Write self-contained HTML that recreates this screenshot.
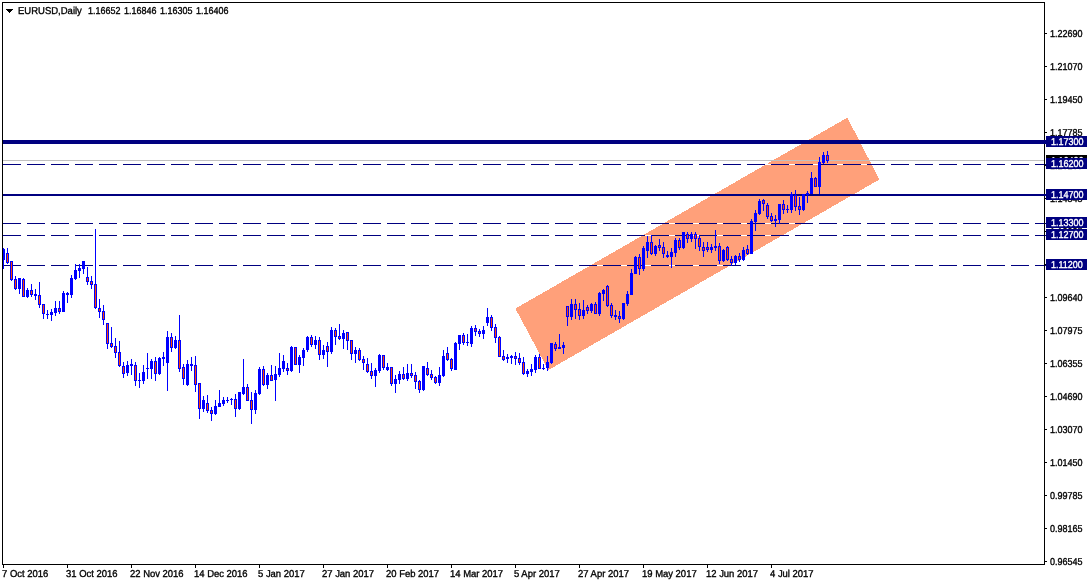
<!DOCTYPE html>
<html><head><meta charset="utf-8"><title>EURUSD,Daily</title>
<style>
html,body{margin:0;padding:0;background:#fff;}
body{width:1087px;height:585px;overflow:hidden;position:relative;font-family:"Liberation Sans",Arial,sans-serif;}
#chart{position:absolute;left:0;top:0;width:1087px;height:585px;}
svg{position:absolute;left:0;top:0;display:block;}
.t{position:absolute;white-space:pre;font-size:10px;text-rendering:geometricPrecision;line-height:11px;height:11px;color:#000;transform-origin:0 0;transform:scaleX(0.9);-webkit-text-stroke:0.35px #000;}
.hd{transform:scaleX(0.95);}.hn{transform:scaleX(0.897);}
.dt{transform:scaleX(0.945);}
.pl{position:absolute;left:1046px;width:41px;height:11px;background:#000080;color:#fff;}
.pl span{position:absolute;left:4.5px;top:1px;font-size:10px;text-rendering:geometricPrecision;line-height:11px;white-space:pre;transform-origin:0 0;transform:scaleX(0.9);-webkit-text-stroke:0.35px #fff;}
.bid{background:#000;}
</style></head><body><div id="chart">
<svg width="1087" height="585" viewBox="0 0 1087 585" shape-rendering="crispEdges">
<rect x="0" y="0" width="1087" height="585" fill="#fff"/>
<polygon points="515.4,308.6 847.3,117.6 879.4,179.5 548.3,370.1" fill="#ffa07a"/>
<rect x="3" y="140" width="1043" height="4" fill="#000080"/>
<rect x="3" y="160" width="1041" height="1" fill="#c0c0c0"/>
<rect x="3" y="194" width="1043" height="2" fill="#000080"/>
<rect x="3" y="164" width="1041" height="1" fill="#fff"/>
<path d="M3 164h18v1h-18zM27 164h18v1h-18zM51 164h18v1h-18zM75 164h18v1h-18zM99 164h18v1h-18zM123 164h18v1h-18zM147 164h18v1h-18zM171 164h18v1h-18zM195 164h18v1h-18zM219 164h18v1h-18zM243 164h18v1h-18zM267 164h18v1h-18zM291 164h18v1h-18zM315 164h18v1h-18zM339 164h18v1h-18zM363 164h18v1h-18zM387 164h18v1h-18zM411 164h18v1h-18zM435 164h18v1h-18zM459 164h18v1h-18zM483 164h18v1h-18zM507 164h18v1h-18zM531 164h18v1h-18zM555 164h18v1h-18zM579 164h18v1h-18zM603 164h18v1h-18zM627 164h18v1h-18zM651 164h18v1h-18zM675 164h18v1h-18zM699 164h18v1h-18zM723 164h18v1h-18zM747 164h18v1h-18zM771 164h18v1h-18zM795 164h18v1h-18zM819 164h18v1h-18zM843 164h18v1h-18zM867 164h18v1h-18zM891 164h18v1h-18zM915 164h18v1h-18zM939 164h18v1h-18zM963 164h18v1h-18zM987 164h18v1h-18zM1011 164h18v1h-18zM1035 164h11v1h-11z" fill="#000080"/>
<rect x="3" y="223" width="1041" height="1" fill="#fff"/>
<path d="M3 223h18v1h-18zM27 223h18v1h-18zM51 223h18v1h-18zM75 223h18v1h-18zM99 223h18v1h-18zM123 223h18v1h-18zM147 223h18v1h-18zM171 223h18v1h-18zM195 223h18v1h-18zM219 223h18v1h-18zM243 223h18v1h-18zM267 223h18v1h-18zM291 223h18v1h-18zM315 223h18v1h-18zM339 223h18v1h-18zM363 223h18v1h-18zM387 223h18v1h-18zM411 223h18v1h-18zM435 223h18v1h-18zM459 223h18v1h-18zM483 223h18v1h-18zM507 223h18v1h-18zM531 223h18v1h-18zM555 223h18v1h-18zM579 223h18v1h-18zM603 223h18v1h-18zM627 223h18v1h-18zM651 223h18v1h-18zM675 223h18v1h-18zM699 223h18v1h-18zM723 223h18v1h-18zM747 223h18v1h-18zM771 223h18v1h-18zM795 223h18v1h-18zM819 223h18v1h-18zM843 223h18v1h-18zM867 223h18v1h-18zM891 223h18v1h-18zM915 223h18v1h-18zM939 223h18v1h-18zM963 223h18v1h-18zM987 223h18v1h-18zM1011 223h18v1h-18zM1035 223h11v1h-11z" fill="#000080"/>
<rect x="3" y="235" width="1041" height="1" fill="#fff"/>
<path d="M3 235h18v1h-18zM27 235h18v1h-18zM51 235h18v1h-18zM75 235h18v1h-18zM99 235h18v1h-18zM123 235h18v1h-18zM147 235h18v1h-18zM171 235h18v1h-18zM195 235h18v1h-18zM219 235h18v1h-18zM243 235h18v1h-18zM267 235h18v1h-18zM291 235h18v1h-18zM315 235h18v1h-18zM339 235h18v1h-18zM363 235h18v1h-18zM387 235h18v1h-18zM411 235h18v1h-18zM435 235h18v1h-18zM459 235h18v1h-18zM483 235h18v1h-18zM507 235h18v1h-18zM531 235h18v1h-18zM555 235h18v1h-18zM579 235h18v1h-18zM603 235h18v1h-18zM627 235h18v1h-18zM651 235h18v1h-18zM675 235h18v1h-18zM699 235h18v1h-18zM723 235h18v1h-18zM747 235h18v1h-18zM771 235h18v1h-18zM795 235h18v1h-18zM819 235h18v1h-18zM843 235h18v1h-18zM867 235h18v1h-18zM891 235h18v1h-18zM915 235h18v1h-18zM939 235h18v1h-18zM963 235h18v1h-18zM987 235h18v1h-18zM1011 235h18v1h-18zM1035 235h11v1h-11z" fill="#000080"/>
<rect x="3" y="265" width="1041" height="1" fill="#fff"/>
<path d="M3 265h18v1h-18zM27 265h18v1h-18zM51 265h18v1h-18zM75 265h18v1h-18zM99 265h18v1h-18zM123 265h18v1h-18zM147 265h18v1h-18zM171 265h18v1h-18zM195 265h18v1h-18zM219 265h18v1h-18zM243 265h18v1h-18zM267 265h18v1h-18zM291 265h18v1h-18zM315 265h18v1h-18zM339 265h18v1h-18zM363 265h18v1h-18zM387 265h18v1h-18zM411 265h18v1h-18zM435 265h18v1h-18zM459 265h18v1h-18zM483 265h18v1h-18zM507 265h18v1h-18zM531 265h18v1h-18zM555 265h18v1h-18zM579 265h18v1h-18zM603 265h18v1h-18zM627 265h18v1h-18zM651 265h18v1h-18zM675 265h18v1h-18zM699 265h18v1h-18zM723 265h18v1h-18zM747 265h18v1h-18zM771 265h18v1h-18zM795 265h18v1h-18zM819 265h18v1h-18zM843 265h18v1h-18zM867 265h18v1h-18zM891 265h18v1h-18zM915 265h18v1h-18zM939 265h18v1h-18zM963 265h18v1h-18zM987 265h18v1h-18zM1011 265h18v1h-18zM1035 265h11v1h-11z" fill="#000080"/>
<path d="M3 248h1v21h-1zM7 248h1v16h-1zM11 261h1v20h-1zM15 276h1v14h-1zM19 278h1v16h-1zM23 278h1v19h-1zM27 288h1v10h-1zM31 284h1v13h-1zM35 289h1v11h-1zM39 282h1v26h-1zM43 304h1v15h-1zM47 310h1v9h-1zM51 309h1v12h-1zM55 301h1v15h-1zM59 301h1v13h-1zM63 291h1v21h-1zM67 292h1v11h-1zM71 275h1v23h-1zM75 264h1v16h-1zM79 264h1v14h-1zM83 261h1v13h-1zM87 267h1v18h-1zM91 276h1v13h-1zM95 229h1v80h-1zM99 299h1v19h-1zM103 305h1v20h-1zM107 323h1v26h-1zM111 327h1v21h-1zM115 338h1v20h-1zM119 341h1v26h-1zM123 362h1v16h-1zM127 361h1v15h-1zM131 359h1v16h-1zM135 362h1v24h-1zM139 373h1v15h-1zM143 365h1v19h-1zM147 353h1v26h-1zM151 359h1v20h-1zM155 357h1v24h-1zM159 357h1v18h-1zM163 352h1v14h-1zM167 331h1v60h-1zM171 333h1v19h-1zM175 336h1v13h-1zM179 315h1v57h-1zM183 364h1v21h-1zM187 360h1v26h-1zM191 357h1v14h-1zM195 356h1v36h-1zM199 383h1v36h-1zM203 396h1v16h-1zM207 395h1v18h-1zM211 407h1v14h-1zM215 400h1v15h-1zM219 390h1v17h-1zM223 397h1v9h-1zM227 397h1v6h-1zM231 398h1v7h-1zM235 394h1v23h-1zM239 392h1v18h-1zM243 359h1v36h-1zM247 384h1v17h-1zM251 392h1v32h-1zM255 390h1v24h-1zM259 367h1v28h-1zM263 366h1v20h-1zM267 373h1v16h-1zM271 365h1v16h-1zM275 366h1v35h-1zM279 353h1v24h-1zM283 355h1v17h-1zM287 363h1v12h-1zM291 346h1v26h-1zM295 347h1v18h-1zM299 355h1v18h-1zM303 348h1v18h-1zM307 336h1v16h-1zM311 335h1v12h-1zM315 336h1v13h-1zM319 337h1v23h-1zM323 345h1v14h-1zM327 342h1v25h-1zM331 327h1v27h-1zM335 328h1v17h-1zM339 324h1v16h-1zM343 330h1v19h-1zM347 332h1v18h-1zM351 340h1v20h-1zM355 347h1v16h-1zM359 348h1v13h-1zM363 356h1v14h-1zM367 358h1v15h-1zM371 363h1v16h-1zM375 368h1v19h-1zM379 354h1v19h-1zM383 355h1v15h-1zM387 363h1v8h-1zM391 367h1v19h-1zM395 375h1v18h-1zM399 371h1v13h-1zM403 367h1v13h-1zM407 364h1v17h-1zM411 364h1v14h-1zM415 372h1v17h-1zM419 380h1v13h-1zM423 366h1v25h-1zM427 362h1v14h-1zM431 370h1v10h-1zM435 376h1v8h-1zM439 367h1v19h-1zM443 350h1v27h-1zM447 347h1v14h-1zM451 358h1v13h-1zM455 342h1v28h-1zM459 335h1v15h-1zM463 333h1v12h-1zM467 334h1v12h-1zM471 326h1v21h-1zM475 325h1v11h-1zM479 329h1v8h-1zM483 326h1v13h-1zM487 308h1v18h-1zM491 315h1v16h-1zM495 324h1v19h-1zM499 336h1v21h-1zM503 350h1v11h-1zM507 354h1v9h-1zM511 355h1v9h-1zM515 352h1v13h-1zM519 353h1v12h-1zM523 357h1v18h-1zM527 369h1v8h-1zM531 364h1v12h-1zM535 355h1v18h-1zM539 354h1v15h-1zM543 364h1v6h-1zM547 356h1v15h-1zM551 343h1v21h-1zM555 342h1v9h-1zM559 334h1v15h-1zM563 342h1v12h-1zM567 306h1v20h-1zM571 299h1v21h-1zM575 299h1v20h-1zM579 303h1v17h-1zM583 300h1v19h-1zM587 305h1v9h-1zM591 303h1v10h-1zM595 302h1v12h-1zM599 292h1v24h-1zM603 289h1v12h-1zM607 285h1v22h-1zM611 303h1v15h-1zM615 310h1v10h-1zM619 311h1v12h-1zM623 303h1v17h-1zM627 291h1v15h-1zM631 269h1v26h-1zM635 256h1v18h-1zM639 254h1v21h-1zM643 246h1v25h-1zM647 236h1v22h-1zM651 235h1v20h-1zM655 245h1v11h-1zM659 239h1v12h-1zM663 242h1v16h-1zM667 251h1v7h-1zM671 248h1v20h-1zM675 238h1v19h-1zM679 238h1v12h-1zM683 232h1v17h-1zM687 232h1v11h-1zM691 232h1v10h-1zM695 232h1v17h-1zM699 235h1v16h-1zM703 242h1v15h-1zM707 242h1v10h-1zM711 244h1v9h-1zM715 230h1v21h-1zM719 243h1v21h-1zM723 249h1v13h-1zM727 246h1v15h-1zM731 256h1v10h-1zM735 255h1v10h-1zM739 253h1v9h-1zM743 247h1v14h-1zM747 245h1v10h-1zM751 219h1v35h-1zM755 210h1v21h-1zM759 199h1v16h-1zM763 199h1v12h-1zM767 203h1v16h-1zM771 213h1v9h-1zM775 215h1v12h-1zM779 204h1v20h-1zM783 200h1v14h-1zM787 205h1v8h-1zM791 192h1v21h-1zM795 190h1v21h-1zM799 197h1v18h-1zM803 194h1v17h-1zM807 191h1v12h-1zM811 172h1v22h-1zM815 177h1v10h-1zM819 157h1v37h-1zM823 152h1v12h-1zM827 151h1v12h-1z" fill="#0000ff"/>
<path d="M2 249h3v11h-3zM6 253h3v10h-3zM10 261h3v19h-3zM14 279h3v10h-3zM18 278h3v11h-3zM22 279h3v18h-3zM26 290h3v7h-3zM30 290h3v5h-3zM34 294h3v2h-3zM38 295h3v10h-3zM42 304h3v10h-3zM46 314h3v1h-3zM50 312h3v3h-3zM54 308h3v5h-3zM58 308h3v4h-3zM62 293h3v19h-3zM66 293h3v2h-3zM70 278h3v17h-3zM74 270h3v9h-3zM78 268h3v3h-3zM82 261h3v8h-3zM86 277h3v5h-3zM90 281h3v4h-3zM94 284h3v24h-3zM98 308h3v4h-3zM102 311h3v9h-3zM106 323h3v21h-3zM110 343h3v4h-3zM114 346h3v7h-3zM118 352h3v14h-3zM122 366h3v8h-3zM126 365h3v8h-3zM130 364h3v2h-3zM134 365h3v16h-3zM138 380h3v1h-3zM142 372h3v9h-3zM146 368h3v1h-3zM150 361h3v8h-3zM154 361h3v13h-3zM158 358h3v16h-3zM162 357h3v2h-3zM166 337h3v26h-3zM170 337h3v11h-3zM174 340h3v8h-3zM178 340h3v29h-3zM182 367h3v12h-3zM186 364h3v21h-3zM190 364h3v2h-3zM194 365h3v20h-3zM198 383h3v26h-3zM202 400h3v9h-3zM206 403h3v8h-3zM210 410h3v4h-3zM214 406h3v8h-3zM218 403h3v4h-3zM222 400h3v4h-3zM226 400h3v1h-3zM230 399h3v1h-3zM234 399h3v10h-3zM238 392h3v17h-3zM242 387h3v7h-3zM246 387h3v14h-3zM250 400h3v10h-3zM254 393h3v17h-3zM258 369h3v25h-3zM262 369h3v16h-3zM266 375h3v10h-3zM270 375h3v6h-3zM274 374h3v6h-3zM278 368h3v7h-3zM282 361h3v8h-3zM286 368h3v3h-3zM290 347h3v24h-3zM294 347h3v18h-3zM298 357h3v8h-3zM302 350h3v8h-3zM306 337h3v13h-3zM310 337h3v8h-3zM314 340h3v5h-3zM318 340h3v15h-3zM322 350h3v5h-3zM326 346h3v6h-3zM330 330h3v22h-3zM334 330h3v7h-3zM338 336h3v3h-3zM342 333h3v6h-3zM346 332h3v9h-3zM350 340h3v14h-3zM354 350h3v4h-3zM358 350h3v10h-3zM362 359h3v4h-3zM366 364h3v8h-3zM370 371h3v5h-3zM374 370h3v6h-3zM378 355h3v16h-3zM382 355h3v13h-3zM386 367h3v3h-3zM390 367h3v17h-3zM394 379h3v5h-3zM398 374h3v6h-3zM402 374h3v5h-3zM406 373h3v6h-3zM410 373h3v3h-3zM414 375h3v7h-3zM418 381h3v9h-3zM422 366h3v24h-3zM426 368h3v7h-3zM430 374h3v4h-3zM434 377h3v6h-3zM438 375h3v8h-3zM442 356h3v20h-3zM446 353h3v7h-3zM450 359h3v10h-3zM454 343h3v27h-3zM458 335h3v9h-3zM462 335h3v8h-3zM466 342h3v1h-3zM470 328h3v16h-3zM474 328h3v4h-3zM478 331h3v3h-3zM482 330h3v4h-3zM486 317h3v6h-3zM490 317h3v11h-3zM494 327h3v11h-3zM498 337h3v20h-3zM502 356h3v4h-3zM506 357h3v2h-3zM510 356h3v2h-3zM514 356h3v3h-3zM518 358h3v5h-3zM522 362h3v12h-3zM526 371h3v3h-3zM530 369h3v3h-3zM534 357h3v13h-3zM538 357h3v12h-3zM542 368h3v1h-3zM546 362h3v6h-3zM550 343h3v20h-3zM554 344h3v5h-3zM558 347h3v2h-3zM562 345h3v3h-3zM566 306h3v11h-3zM570 304h3v13h-3zM574 304h3v6h-3zM578 309h3v7h-3zM582 310h3v6h-3zM586 307h3v4h-3zM590 304h3v7h-3zM594 304h3v10h-3zM598 293h3v21h-3zM602 290h3v4h-3zM606 286h3v20h-3zM610 305h3v11h-3zM614 315h3v2h-3zM618 316h3v3h-3zM622 303h3v16h-3zM626 294h3v10h-3zM630 273h3v22h-3zM634 257h3v17h-3zM638 257h3v12h-3zM642 248h3v21h-3zM646 242h3v9h-3zM650 242h3v12h-3zM654 246h3v8h-3zM658 245h3v3h-3zM662 247h3v7h-3zM666 255h3v2h-3zM670 252h3v5h-3zM674 240h3v13h-3zM678 240h3v8h-3zM682 232h3v16h-3zM686 234h3v5h-3zM690 234h3v5h-3zM694 234h3v5h-3zM698 238h3v9h-3zM702 247h3v4h-3zM706 247h3v3h-3zM710 247h3v3h-3zM714 246h3v2h-3zM718 246h3v15h-3zM722 250h3v11h-3zM726 247h3v13h-3zM730 259h3v4h-3zM734 256h3v7h-3zM738 256h3v4h-3zM742 250h3v10h-3zM746 249h3v5h-3zM750 221h3v33h-3zM754 213h3v9h-3zM758 201h3v13h-3zM762 200h3v4h-3zM766 205h3v12h-3zM770 216h3v5h-3zM774 219h3v2h-3zM778 204h3v16h-3zM782 204h3v6h-3zM786 209h3v1h-3zM790 194h3v16h-3zM794 195h3v12h-3zM798 206h3v4h-3zM802 194h3v16h-3zM806 193h3v2h-3zM810 178h3v16h-3zM814 178h3v9h-3zM818 162h3v25h-3zM822 155h3v8h-3zM826 155h3v6h-3z" fill="#0000ff"/>
<path d="M7 254h1v8h-1zM11 262h1v17h-1zM15 280h1v8h-1zM23 280h1v16h-1zM31 291h1v3h-1zM39 296h1v8h-1zM43 305h1v8h-1zM59 309h1v2h-1zM87 278h1v3h-1zM91 282h1v2h-1zM95 285h1v22h-1zM99 309h1v2h-1zM103 312h1v7h-1zM107 324h1v19h-1zM111 344h1v2h-1zM115 347h1v5h-1zM119 353h1v12h-1zM123 367h1v6h-1zM135 366h1v14h-1zM155 362h1v11h-1zM171 338h1v9h-1zM179 341h1v27h-1zM183 368h1v10h-1zM195 366h1v18h-1zM199 384h1v24h-1zM207 404h1v6h-1zM211 411h1v2h-1zM235 400h1v8h-1zM247 388h1v12h-1zM251 401h1v8h-1zM263 370h1v14h-1zM271 376h1v4h-1zM287 369h1v1h-1zM295 348h1v16h-1zM311 338h1v6h-1zM319 341h1v13h-1zM327 347h1v4h-1zM335 331h1v5h-1zM339 337h1v1h-1zM347 333h1v7h-1zM351 341h1v12h-1zM359 351h1v8h-1zM363 360h1v2h-1zM367 365h1v6h-1zM371 372h1v3h-1zM383 356h1v11h-1zM391 368h1v15h-1zM403 375h1v3h-1zM411 374h1v1h-1zM415 376h1v5h-1zM419 382h1v7h-1zM427 369h1v5h-1zM431 375h1v2h-1zM435 378h1v4h-1zM447 354h1v5h-1zM451 360h1v8h-1zM463 336h1v6h-1zM475 329h1v2h-1zM479 332h1v1h-1zM491 318h1v9h-1zM495 328h1v9h-1zM499 338h1v18h-1zM503 357h1v2h-1zM515 357h1v1h-1zM519 359h1v3h-1zM523 363h1v10h-1zM539 358h1v10h-1zM555 345h1v3h-1zM567 307h1v9h-1zM575 305h1v4h-1zM579 310h1v5h-1zM587 308h1v2h-1zM595 305h1v8h-1zM607 287h1v18h-1zM611 306h1v9h-1zM619 317h1v1h-1zM639 258h1v10h-1zM651 243h1v10h-1zM659 246h1v1h-1zM663 248h1v5h-1zM679 241h1v6h-1zM687 235h1v3h-1zM695 235h1v3h-1zM699 239h1v7h-1zM703 248h1v2h-1zM707 248h1v1h-1zM719 247h1v13h-1zM727 248h1v11h-1zM731 260h1v2h-1zM739 257h1v2h-1zM747 250h1v3h-1zM763 201h1v2h-1zM767 206h1v10h-1zM771 217h1v3h-1zM783 205h1v4h-1zM795 196h1v10h-1zM799 207h1v2h-1zM815 179h1v7h-1zM827 156h1v4h-1z" fill="#ff4500"/>
<path d="M2 2h1043v1h-1043z M2 2h1v563h-1z M1044 2h1v563h-1z M2 564h1043v1h-1043z" fill="#000"/>
<rect x="1044" y="140" width="2" height="4" fill="#000080"/><rect x="1044" y="194" width="2" height="2" fill="#000080"/>
<path d="M1045 33h2v1h-2zM1045 66h2v1h-2zM1045 99h2v1h-2zM1045 132h2v1h-2zM1045 165h2v1h-2zM1045 198h2v1h-2zM1045 231h2v1h-2zM1045 264h2v1h-2zM1045 297h2v1h-2zM1045 330h2v1h-2zM1045 363h2v1h-2zM1045 396h2v1h-2zM1045 429h2v1h-2zM1045 462h2v1h-2zM1045 495h2v1h-2zM1045 528h2v1h-2zM1045 561h2v1h-2zM3 565h1v3h-1zM67 565h1v3h-1zM131 565h1v3h-1zM195 565h1v3h-1zM259 565h1v3h-1zM323 565h1v3h-1zM387 565h1v3h-1zM451 565h1v3h-1zM515 565h1v3h-1zM579 565h1v3h-1zM643 565h1v3h-1zM707 565h1v3h-1zM771 565h1v3h-1z" fill="#000"/>
<path d="M6 9h7v1h-7z M7 10h5v1h-5z M8 11h3v1h-3z M9 12h1v1h-1z" fill="#000"/>
</svg>
<div class="t hd" id="h0" style="left:18px;top:6px;">EURUSD,Daily</div>
<div class="t hn" id="h1" style="left:88.4px;top:6px;">1.16652</div>
<div class="t hn" id="h2" style="left:124.4px;top:6px;">1.16846</div>
<div class="t hn" id="h3" style="left:160.4px;top:6px;">1.16305</div>
<div class="t hn" id="h4" style="left:196.4px;top:6px;">1.16406</div>
<div class="t" style="left:1050.2px;top:29px;">1.22690</div>
<div class="t" style="left:1050.2px;top:62px;">1.21070</div>
<div class="t" style="left:1050.2px;top:95px;">1.19450</div>
<div class="t" style="left:1050.2px;top:128px;">1.17785</div>
<div class="t" style="left:1050.2px;top:161px;">1.16165</div>
<div class="t" style="left:1050.2px;top:194px;">1.14545</div>
<div class="t" style="left:1050.2px;top:227px;">1.12925</div>
<div class="t" style="left:1050.2px;top:260px;">1.11260</div>
<div class="t" style="left:1050.2px;top:293px;">1.09640</div>
<div class="t" style="left:1050.2px;top:326px;">1.07975</div>
<div class="t" style="left:1050.2px;top:359px;">1.06355</div>
<div class="t" style="left:1050.2px;top:392px;">1.04690</div>
<div class="t" style="left:1050.2px;top:425px;">1.03070</div>
<div class="t" style="left:1050.2px;top:458px;">1.01450</div>
<div class="t" style="left:1050.2px;top:491px;">0.99785</div>
<div class="t" style="left:1050.2px;top:524px;">0.98165</div>
<div class="t" style="left:1050.2px;top:557px;">0.96545</div>
<div class="t dt" style="left:2px;top:569px;">7 Oct 2016</div>
<div class="t dt" style="left:66px;top:569px;">31 Oct 2016</div>
<div class="t dt" style="left:130px;top:569px;">22 Nov 2016</div>
<div class="t dt" style="left:194px;top:569px;">14 Dec 2016</div>
<div class="t dt" style="left:258px;top:569px;">5 Jan 2017</div>
<div class="t dt" style="left:322px;top:569px;">27 Jan 2017</div>
<div class="t dt" style="left:386px;top:569px;">20 Feb 2017</div>
<div class="t dt" style="left:450px;top:569px;">14 Mar 2017</div>
<div class="t dt" style="left:514px;top:569px;">5 Apr 2017</div>
<div class="t dt" style="left:578px;top:569px;">27 Apr 2017</div>
<div class="t dt" style="left:642px;top:569px;">19 May 2017</div>
<div class="t dt" style="left:706px;top:569px;">12 Jun 2017</div>
<div class="t dt" style="left:770px;top:569px;">4 Jul 2017</div>
<div class="pl bid" style="top:155px;"><span>1.16406</span></div>
<div class="pl" style="top:136px;"><span>1.17300</span></div>
<div class="pl" style="top:158px;"><span>1.16200</span></div>
<div class="pl" style="top:189px;"><span>1.14700</span></div>
<div class="pl" style="top:217px;"><span>1.13300</span></div>
<div class="pl" style="top:229px;"><span>1.12700</span></div>
<div class="pl" style="top:259px;"><span>1.11200</span></div>
</div></body></html>
